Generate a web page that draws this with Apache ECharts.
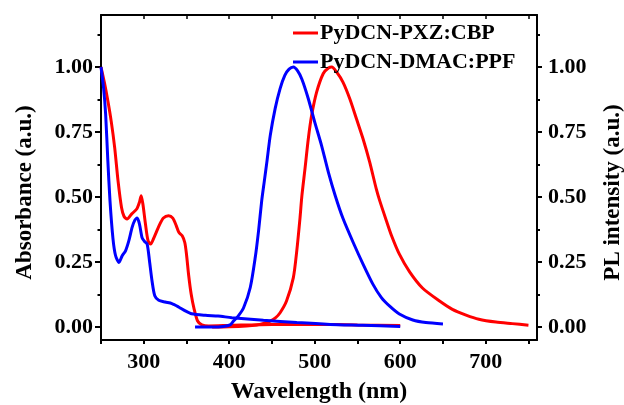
<!DOCTYPE html>
<html>
<head>
<meta charset="utf-8">
<script src="https://cdn.jsdelivr.net/npm/echarts@6/dist/echarts.min.js"></script>
<style>
  html, body { margin: 0; padding: 0; background: #fff; }
  #chart { width: 624px; height: 405px; }
</style>
</head>
<body>
<div id="chart"></div>
<script>
// Absorbance spectra (left axis)
const pxzAbsWl  = [250, 254, 258, 262, 266, 270, 274, 277, 280.5, 286, 292, 295, 297, 299, 302, 305, 308, 312, 318, 323, 329, 334, 338, 341, 345, 348, 350, 352.5, 355.5, 359, 363, 368, 376, 400, 450, 500, 550, 600];
const pxzAbsVal = [1.0, 0.94, 0.87, 0.79, 0.69, 0.56, 0.46, 0.425, 0.415, 0.435, 0.455, 0.48, 0.505, 0.473, 0.396, 0.332, 0.319, 0.344, 0.39, 0.419, 0.428, 0.419, 0.39, 0.364, 0.351, 0.325, 0.28, 0.2, 0.126, 0.068, 0.023, 0.008, 0.004, 0.006, 0.01, 0.01, 0.008, 0.006];

const dmacAbsWl  = [250, 253, 255.4, 258, 260.5, 264, 267, 271, 274.8, 278.7, 282.6, 286.4, 289.6, 292.3, 295, 298, 301, 304, 306.7, 309.7, 312.9, 317.5, 325, 333, 340.8, 348.6, 356, 372, 387, 403, 440, 479, 518, 556, 600];
const dmacAbsVal = [1.0, 0.92, 0.82, 0.64, 0.486, 0.34, 0.275, 0.248, 0.274, 0.293, 0.332, 0.383, 0.411, 0.419, 0.396, 0.344, 0.329, 0.319, 0.255, 0.177, 0.12, 0.103, 0.096, 0.09, 0.077, 0.062, 0.051, 0.045, 0.042, 0.036, 0.026, 0.017, 0.01, 0.0065, 0.002];

// Photoluminescence spectra (right axis)
const pxzPlWl  = [380, 400, 420, 432, 440, 448, 454, 459.5, 467, 475, 479, 482.8, 485, 488.6, 492.5, 496.4, 502.3, 510, 516, 520, 525.5, 533, 541, 548.8, 556.5, 564.3, 572, 576, 583.8, 590, 599, 611, 626, 646, 661, 677, 692, 712, 731, 750];
const pxzPlVal = [0, 0.001, 0.004, 0.008, 0.014, 0.023, 0.035, 0.055, 0.1, 0.19, 0.293, 0.42, 0.505, 0.608, 0.724, 0.814, 0.904, 0.975, 0.996, 1.0, 0.981, 0.942, 0.878, 0.801, 0.724, 0.634, 0.531, 0.486, 0.409, 0.35, 0.28, 0.212, 0.15, 0.1, 0.068, 0.046, 0.03, 0.019, 0.013, 0.007];

const dmacPlWl  = [360, 380, 393, 401, 405, 410, 416.8, 424.6, 430.4, 434.3, 438, 441, 444, 448, 453.7, 459.5, 465, 470, 475, 480, 485, 492.5, 500, 508, 516, 524, 533, 545, 556.5, 568, 578, 588, 599, 614.7, 630, 650];
const dmacPlVal = [0, 0, 0.002, 0.008, 0.023, 0.04, 0.074, 0.152, 0.267, 0.37, 0.486, 0.56, 0.634, 0.737, 0.84, 0.917, 0.968, 0.992, 1.0, 0.985, 0.953, 0.878, 0.788, 0.698, 0.595, 0.505, 0.418, 0.325, 0.242, 0.165, 0.113, 0.079, 0.05, 0.027, 0.017, 0.012];

// Axis ticks and labels
const xLabelValues = [300, 400, 500, 600, 700];
const xTickValues  = [250, 300, 350, 400, 450, 500, 550, 600, 650, 700, 750];
const yMajorValues = [0, 0.25, 0.5, 0.75, 1.0];
const yMinorValues = [0.125, 0.375, 0.625, 0.875, 1.125];

const seriesNames = ['PyDCN-PXZ:CBP', 'PyDCN-DMAC:PPF'];
const seriesColors = ['#ff0000', '#0000ff'];

const FONT = "'Liberation Serif', 'Times New Roman', serif";
const zip = (xs, ys) => xs.map((x, i) => [x, ys[i]]);

const black = '#000';
const lineStyleAxis = { color: black, width: 2 };

function yAxisBase(position, extra) {
  return Object.assign({
    type: 'value', position: position,
    min: -0.05, max: 1.2,
    splitLine: { show: false },
    axisLine: { show: true, onZero: false, lineStyle: lineStyleAxis }
  }, extra);
}

const chart = echarts.init(document.getElementById('chart'), null, { renderer: 'canvas' });

function line(name, color, xs, ys, yIdx) {
  return {
    name: name, type: 'line', xAxisIndex: 0, yAxisIndex: yIdx,
    data: zip(xs, ys),
    showSymbol: false, symbol: 'none',
    smooth: 0.25,
    lineStyle: { color: color, width: 3 },
    itemStyle: { color: color },
    emphasis: { disabled: true },
    animation: false
  };
}

chart.setOption({
  animation: false,
  backgroundColor: '#fff',
  grid: { left: 101, right: 87, top: 15, bottom: 65, containLabel: false, outerBoundsMode: 'none' },
  legend: {
    orient: 'vertical',
    left: 288, top: 17,
    itemWidth: 25, itemHeight: 3, itemGap: 7,
    icon: 'rect',
    data: seriesNames.map((n, i) => ({ name: n, itemStyle: { color: seriesColors[i] } })),
    textStyle: { fontFamily: FONT, fontWeight: 'bold', fontSize: 22, color: black, padding: [0, 0, 0, -3] },
    selectedMode: false
  },
  xAxis: [
    {
      type: 'value', position: 'bottom', min: 250, max: 760,
      name: 'Wavelength (nm)', nameLocation: 'middle', nameGap: 40,
      nameTextStyle: { fontFamily: FONT, fontWeight: 'bold', fontSize: 24, color: black },
      splitLine: { show: false },
      axisLine: { show: true, onZero: false, lineStyle: lineStyleAxis },
      axisTick: { show: true, inside: false, length: 4, customValues: xTickValues, lineStyle: { color: black, width: 2 } },
      axisLabel: { show: true, customValues: xLabelValues, margin: 11, fontFamily: FONT, fontWeight: 'bold', fontSize: 22, color: black }
    },
    {
      type: 'value', position: 'top', min: 250, max: 760,
      splitLine: { show: false },
      axisLine: { show: true, onZero: false, lineStyle: lineStyleAxis },
      axisTick: { show: true, inside: true, length: 4, customValues: xTickValues, lineStyle: { color: black, width: 1.5 } },
      axisLabel: { show: false }
    }
  ],
  yAxis: [
    yAxisBase('left', {
      name: 'Absorbance (a.u.)', nameLocation: 'middle', nameGap: 64, nameRotate: 90,
      nameTextStyle: { fontFamily: FONT, fontWeight: 'bold', fontSize: 23, color: black, padding: [0, 30, 0, 0] },
      axisTick: { show: true, length: 6, customValues: yMajorValues, lineStyle: { color: black, width: 2 } },
      axisLabel: { show: true, customValues: yMajorValues, margin: 8, formatter: v => v.toFixed(2), fontFamily: FONT, fontWeight: 'bold', fontSize: 22, color: black }
    }),
    yAxisBase('right', {
      name: 'PL intensity (a.u.)', nameLocation: 'middle', nameGap: 65, nameRotate: 90,
      nameTextStyle: { fontFamily: FONT, fontWeight: 'bold', fontSize: 23, color: black, padding: [0, 30, 0, 0] },
      axisTick: { show: true, length: 5, customValues: yMajorValues, lineStyle: { color: black, width: 2 } },
      axisLabel: { show: true, customValues: yMajorValues, margin: 11, formatter: v => v.toFixed(2), fontFamily: FONT, fontWeight: 'bold', fontSize: 22, color: black }
    }),
    yAxisBase('left', {
      axisLine: { show: false },
      axisTick: { show: true, length: 3.5, customValues: yMinorValues, lineStyle: { color: black, width: 2 } },
      axisLabel: { show: false }
    }),
    yAxisBase('right', {
      axisLine: { show: false },
      axisTick: { show: true, length: 3, customValues: yMinorValues, lineStyle: { color: black, width: 2 } },
      axisLabel: { show: false }
    })
  ],
  series: [
    line(seriesNames[0], seriesColors[0], pxzAbsWl, pxzAbsVal, 0),
    line(seriesNames[0], seriesColors[0], pxzPlWl, pxzPlVal, 1),
    line(seriesNames[1], seriesColors[1], dmacAbsWl, dmacAbsVal, 0),
    line(seriesNames[1], seriesColors[1], dmacPlWl, dmacPlVal, 1)
  ]
});
</script>
</body>
</html>
